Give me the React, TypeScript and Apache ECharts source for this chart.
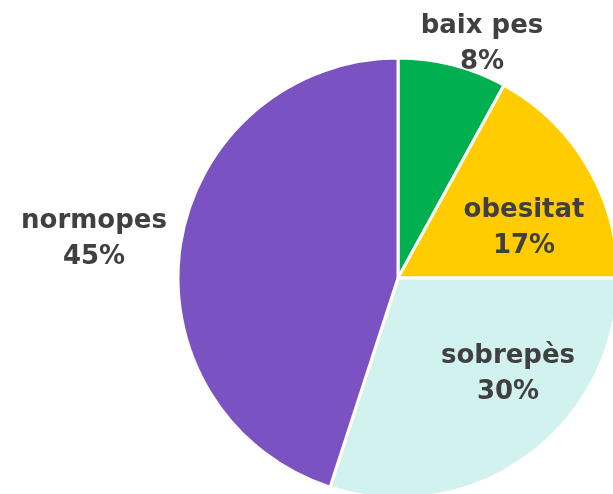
import React, { useEffect, useRef } from "react";
import * as echarts from "echarts";

const categories = ["baix pes", "obesitat", "sobrepès", "normopes"];
const values = [8, 17, 30, 45];
const colors = ["#00b050", "#ffcc00", "#d2f2ef", "#7b52c1"];
// label block centres (layout only)
const labelCenters: [number, number][] = [
  [482, 42],
  [524, 226],
  [508, 372],
  [94, 237],
];

export default function App() {
  const ref = useRef<HTMLDivElement>(null);
  useEffect(() => {
    if (!ref.current) return;
    const chart = echarts.init(ref.current, undefined, { renderer: "svg" });
    chart.setOption({
      animation: false,
      series: [
        {
          type: "pie",
          center: [398, 278],
          radius: 220,
          startAngle: 90,
          clockwise: true,
          data: categories.map((c, i) => ({
            name: c,
            value: values[i],
            itemStyle: { color: colors[i] },
          })),
          itemStyle: { borderColor: "#ffffff", borderWidth: 3 },
          label: {
            show: true,
            position: "inside",
            formatter: "{b}\n{d}%",
            color: "#404040",
            fontFamily: "DejaVu Sans",
            fontWeight: "bold",
            fontSize: 26,
            lineHeight: 36,
            align: "center",
            verticalAlign: "middle",
          },
          labelLine: { show: false },
          labelLayout: (p: any) => {
            const c = labelCenters[p.dataIndex];
            return { x: c[0], y: c[1], align: "center", verticalAlign: "middle" };
          },
        },
      ],
    });
    return () => chart.dispose();
  }, []);
  return (
    <div
      ref={ref}
      style={{ position: "fixed", left: 0, top: 0, width: 613, height: 494 }}
    />
  );
}
